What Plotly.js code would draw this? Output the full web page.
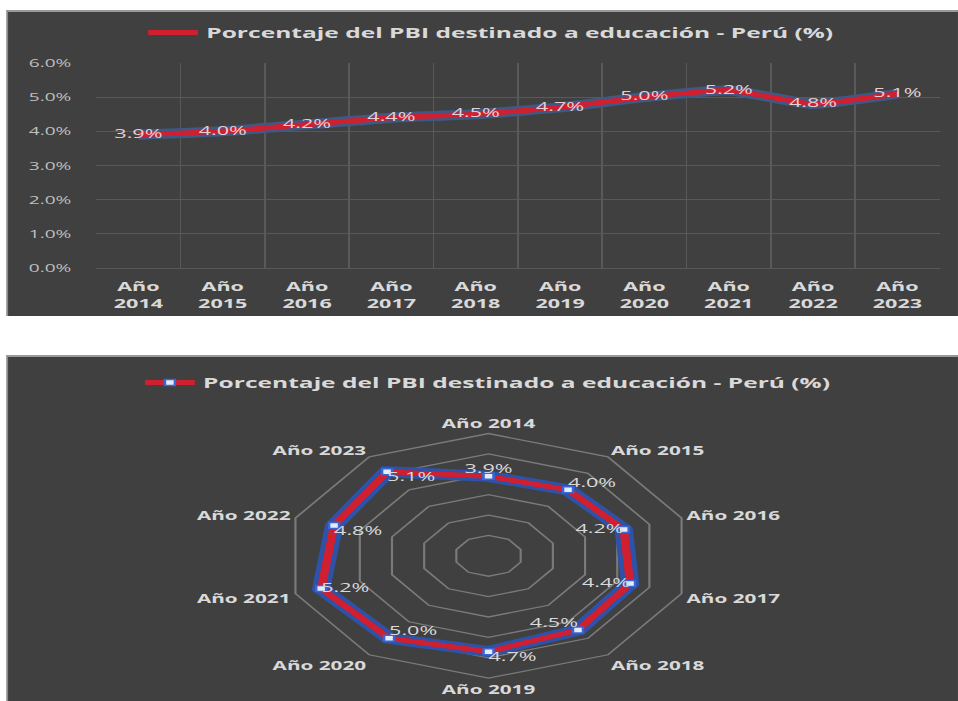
<!DOCTYPE html>
<html>
<head>
<meta charset="utf-8">
<script src="https://cdn.plot.ly/plotly-3.0.1.min.js"></script>
<style>
  html, body { margin:0; padding:0; background:#ffffff; width:958px; height:701px; overflow:hidden; }
  #wrap { position:absolute; left:0; top:0; width:577px; height:701px; transform:scaleX(1.66); transform-origin:0 0; }
  .panel { position:absolute; left:4.2px; width:573px; background:#404040; border-top:2px solid #9a9a9a; border-left:1px solid #8a8a8a; box-sizing:border-box; }
  #topChart { top:10px; height:306px; }
  #radarChart { top:355px; height:346px; }
</style>
</head>
<body>
<div id="wrap">
  <div id="topChart" class="panel"></div>
  <div id="radarChart" class="panel"></div>
</div>
<script>
// ---- data ----
const years = ['Año 2014','Año 2015','Año 2016','Año 2017','Año 2018','Año 2019','Año 2020','Año 2021','Año 2022','Año 2023'];
const yearTickText = ['Año<br>2014','Año<br>2015','Año<br>2016','Año<br>2017','Año<br>2018','Año<br>2019','Año<br>2020','Año<br>2021','Año<br>2022','Año<br>2023'];
const pbiEducacion = [3.9, 4.0, 4.2, 4.4, 4.5, 4.7, 5.0, 5.2, 4.8, 5.1];
const seriesName = 'Porcentaje del PBI destinado a educación - Perú (%)';

const RED = '#d01f2f';
const TXT = '#d9d9d9';
const BG = '#404040';
const FONT = 'Open Sans, DejaVu Sans, sans-serif';

// ---- top line chart ----
const topTraces = [
  { x: years, y: pbiEducacion, type:'scatter', mode:'lines', showlegend:false, hoverinfo:'skip',
    line:{ color:'#3d5a86', width:10, shape:'spline', smoothing:0.4 } },
  { x: years, y: pbiEducacion, type:'scatter', mode:'lines', name: seriesName,
    line:{ color:RED, width:5, shape:'spline', smoothing:0.4 } },
  { x: years, y: pbiEducacion, type:'scatter', mode:'text', showlegend:false,
    texttemplate:'%{y:.1f}%', textposition:'middle center',
    textfont:{ family:FONT, size:13, color:'#e6cfd2' } }
];
const topLayout = {
  width:572, height:304,
  margin:{ l:53, r:11, t:51, b:48 },
  paper_bgcolor:BG, plot_bgcolor:BG,
  font:{ family:FONT, color:TXT },
  showlegend:true,
  legend:{ orientation:'h', x:0.468, xanchor:'center', y:1-21/304, yref:'container', yanchor:'middle',
           font:{ family:FONT, size:14.8, color:TXT, weight:'bold' }, bgcolor:'rgba(0,0,0,0)', itemwidth:30 },
  xaxis:{ type:'category', range:[-0.5, 9.5], tickson:'boundaries', tickvals:years, ticktext:yearTickText,
          showgrid:true, gridcolor:'#595959', gridwidth:1, ticks:'', showline:false, zeroline:false,
          tickfont:{ family:FONT, size:13, color:TXT, weight:'bold' }, ticklabelstandoff:9 },
  yaxis:{ range:[0, 6], dtick:1, tickformat:'.1f', ticksuffix:'%', showgrid:true, gridcolor:'#595959', gridwidth:1,
          zeroline:true, zerolinecolor:'#595959', zerolinewidth:1, ticks:'', showline:false,
          tickfont:{ family:FONT, size:11.5, color:'#bfbfbf' }, ticklabelstandoff:14 }
};
Plotly.newPlot('topChart', topTraces, topLayout, { displayModeBar:false, staticPlot:true });

// ---- radar chart ----
const thetaClosed = years.concat([years[0]]);
const rClosed = pbiEducacion.concat([pbiEducacion[0]]);
const radarTextPos = ['top center','top right','middle left','middle left','top left','bottom right','top right','middle right','bottom right','bottom right'];
const radarTraces = [
  { type:'scatterpolar', r:rClosed, theta:thetaClosed, mode:'lines', showlegend:false, hoverinfo:'skip',
    line:{ color:'#2e52a8', width:11 } },
  { type:'scatterpolar', r:rClosed, theta:thetaClosed, mode:'lines+markers', name: seriesName,
    line:{ color:RED, width:5 },
    marker:{ symbol:'square', size:6, color:'#e4ecfb', line:{ color:'#3a66d0', width:1.5 } } },
  { type:'scatterpolar', r:pbiEducacion, theta:years, mode:'text', showlegend:false,
    texttemplate:'%{r:.1f}%', textposition:radarTextPos,
    textfont:{ family:FONT, size:13, color:TXT } }
];
const radarLayout = {
  width:572, height:344,
  margin:{ l:0, r:0, t:0, b:0, autoexpand:false },
  paper_bgcolor:BG,
  font:{ family:FONT, color:TXT },
  showlegend:true,
  legend:{ orientation:'h', x:0.505, xanchor:'center', y:1-26/344, yref:'paper', yanchor:'middle',
           font:{ family:FONT, size:14.8, color:TXT, weight:'bold' }, bgcolor:'rgba(0,0,0,0)', itemwidth:30 },
  polar:{
    domain:{ x:[0.2911, 0.7204], y:[0.0665, 0.7775] },
    bgcolor:BG, gridshape:'linear', hole:0,
    radialaxis:{ range:[0, 6], dtick:1, showticklabels:false, ticks:'', showline:false,
                 gridcolor:'#7a7a7a', gridwidth:1.3 },
    angularaxis:{ type:'category', rotation:90, direction:'clockwise', showgrid:false, ticks:'',
                  showline:true, linecolor:'#7a7a7a', linewidth:1.3,
                  tickfont:{ family:FONT, size:12.5, color:TXT, weight:'bold' } }
  }
};
Plotly.newPlot('radarChart', radarTraces, radarLayout, { displayModeBar:false, staticPlot:true });
</script>
</body>
</html>
